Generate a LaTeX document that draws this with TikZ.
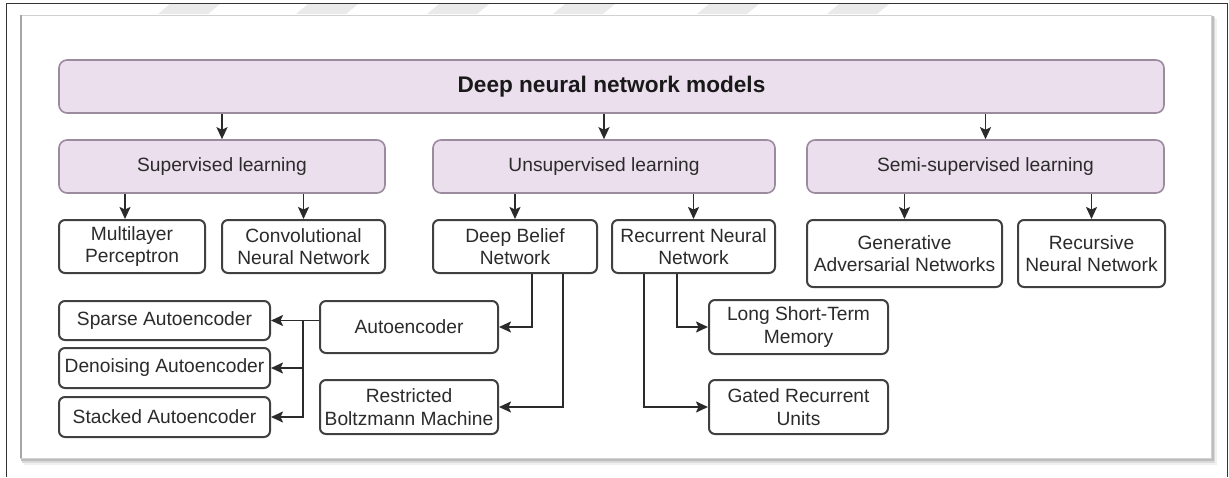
\documentclass[tikz,border=0pt]{standalone}
\usepackage{fontspec}
\setmainfont{Liberation Sans}
\usetikzlibrary{arrows.meta}
\definecolor{lav}{HTML}{EBDEED}
\definecolor{lavline}{HTML}{9C8A9F}
\definecolor{ink}{HTML}{2B2B2B}
\definecolor{boxline}{HTML}{404040}
\definecolor{wm}{HTML}{EAEAEA}
\tikzset{
  catbox/.style={draw=lavline, line width=1.6pt, fill=lav, rounded corners=8pt,
    text=ink, font=\fontsize{19.2}{22.5}\selectfont, inner sep=0pt},
  leafbox/.style={draw=boxline, line width=2pt, fill=white, rounded corners=6pt,
    text=ink, font=\fontsize{19.2}{22.5}\selectfont, align=center, inner sep=0pt},
  link/.style={draw=ink, line width=1.8pt, -{Stealth[length=12pt,width=11pt,inset=2.5pt]}},
}
\begin{document}
\begin{tikzpicture}[x=1pt,y=-1pt]
\useasboundingbox (0,0) rectangle (1229,477);
\fill[white] (0,0) rectangle (1229,477);

% faint stripes along the top margin
\foreach \sx in {158,296,427,553,697,827}
  \fill[wm] (\sx+12,4) -- (\sx+62,4) -- (\sx+50,14) -- (\sx,14) -- cycle;

% outer frame (open at the bottom)
\draw[black!80, line width=1pt] (6,477) -- (6,3.5) -- (1227.5,3.5) -- (1227.5,477);

% panel with soft shadow
\fill[black!6]  (24,19) rectangle (1217,465);
\fill[black!14] (22,17) rectangle (1215,463);
\fill[black!26] (21,16) rectangle (1213.5,460.5);
\fill[white] (20,15) rectangle (1211,458);
\draw[black!18, line width=1pt] (20,15) rectangle (1211,458);
\draw[black!35, line width=1.5pt] (20.8,15) -- (20.8,458);

% categories
\node[catbox, minimum width=1105pt, minimum height=53pt,
  font=\fontsize{22.6}{26}\selectfont\bfseries, text=black!90] (dnn) at (611.5,86.5) {Deep neural network models};
\node[catbox, minimum width=326pt, minimum height=53pt] (sup) at (222,166.5) {Supervised learning};
\node[catbox, minimum width=342pt, minimum height=53pt] (uns) at (604,166.5) {Unsupervised learning};
\node[catbox, minimum width=357pt, minimum height=53pt] (semi) at (985.5,166.5) {Semi-supervised learning};

% model families
\node[leafbox, minimum width=146pt, minimum height=53pt] (mlp) at (132,246.5) {Multilayer\\Perceptron};
\node[leafbox, minimum width=163pt, minimum height=53pt] (cnn) at (303.5,246.5) {Convolutional\\Neural Network};
\node[leafbox, minimum width=164pt, minimum height=53pt] (dbn) at (515,246.5) {Deep Belief\\Network};
\node[leafbox, minimum width=163pt, minimum height=53pt] (rnn) at (693.5,246.5) {Recurrent Neural\\Network};
\node[leafbox, minimum width=195pt, minimum height=67pt] (gan) at (904.5,253.5) {Generative\\Adversarial Networks};
\node[leafbox, minimum width=147pt, minimum height=67pt] (rec) at (1091.5,253.5) {Recursive\\Neural Network};

% sub-models
\node[leafbox, minimum width=178pt, minimum height=52pt] (ae) at (409,327) {Autoencoder};
\node[leafbox, minimum width=178pt, minimum height=54pt] (rbm) at (409,407) {Restricted\\Boltzmann Machine};
\node[leafbox, minimum width=211pt, minimum height=39pt] (sae) at (164.5,320.5) {Sparse Autoencoder};
\node[leafbox, minimum width=211pt, minimum height=40pt] (dae) at (164.5,368) {Denoising Autoencoder};
\node[leafbox, minimum width=211pt, minimum height=40pt] (stk) at (164.5,417) {Stacked Autoencoder};
\node[leafbox, minimum width=179pt, minimum height=54pt] (lstm) at (798.5,327) {Long Short-Term\\Memory};
\node[leafbox, minimum width=179pt, minimum height=54pt] (gru) at (798.5,407) {Gated Recurrent\\Units};

% top level to categories
\draw[link] (dnn.south -| sup.north) -- (sup.north);
\draw[link] (dnn.south -| uns.north) -- (uns.north);
\draw[link] (dnn.south -| semi.north) -- (semi.north);

% categories to families
\draw[link] ([xshift=-7pt]mlp.north |- sup.south) -- ([xshift=-7pt]mlp.north);
\draw[link] (cnn.north |- sup.south) -- (cnn.north);
\draw[link] (dbn.north |- uns.south) -- (dbn.north);
\draw[link] (rnn.north |- uns.south) -- (rnn.north);
\draw[link] (gan.north |- semi.south) -- (gan.north);
\draw[link] (rec.north |- semi.south) -- (rec.north);

% families to sub-models
\draw[link] ([xshift=17pt]dbn.south) |- (ae.east);
\draw[link] ([xshift=48pt]dbn.south) |- (rbm.east);
\draw[link] ([xshift=-16.5pt]rnn.south) |- (lstm.west);
\draw[link] ([xshift=-49.5pt]rnn.south) |- (gru.west);

% autoencoder variants
\coordinate (br) at (303,320.5);
\draw[link] (ae.west |- sae.east) -- (sae.east);
\draw[link] (br) |- (stk.east);
\draw[link] (br |- dae.east) -- (dae.east);
\end{tikzpicture}
\end{document}
